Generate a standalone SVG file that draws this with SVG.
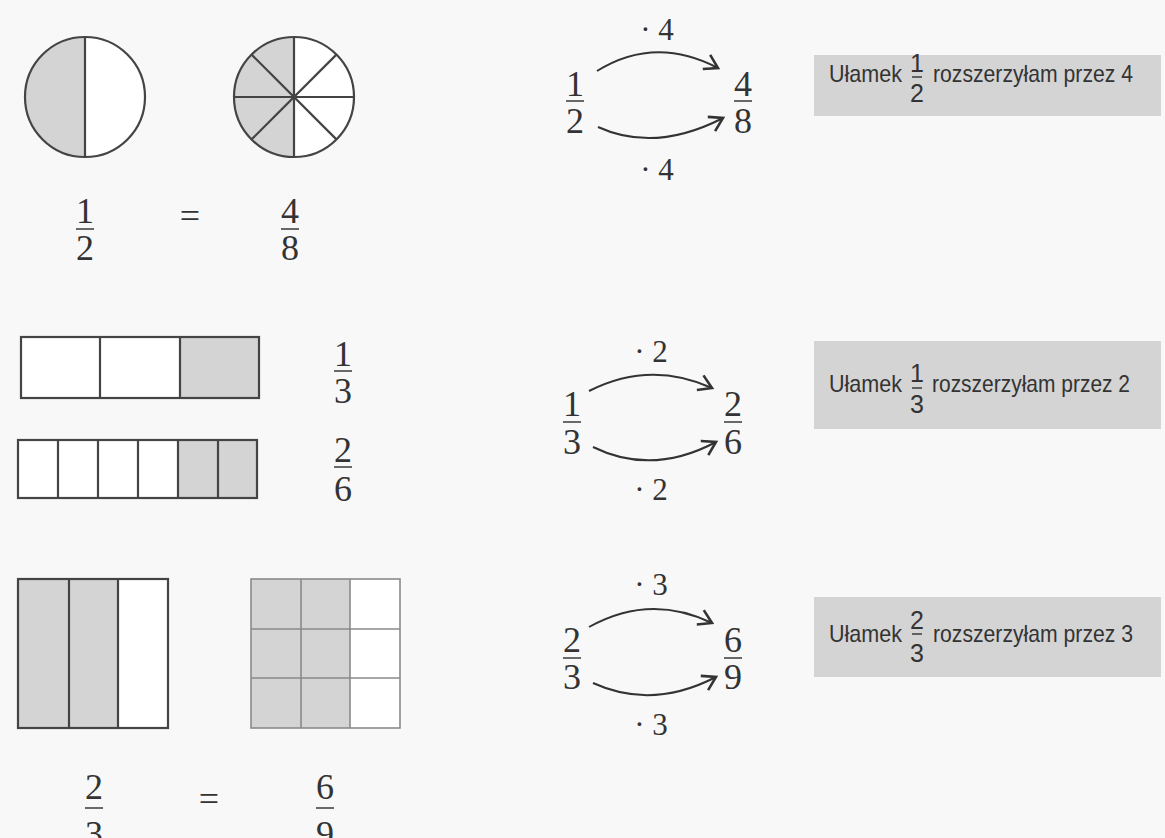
<svg xmlns="http://www.w3.org/2000/svg" width="1165" height="838" viewBox="0 0 1165 838">
<defs>
<style>
.bg{fill:#f8f8f8}
.sh{fill:#d4d4d4}
.wh{fill:#ffffff}
.ln{stroke:#444;stroke-width:2.2;fill:none}
.lt{stroke:#8a8a8a;stroke-width:1.6;fill:none}
.num{font-family:"Liberation Serif","Times New Roman",serif;font-size:36px;fill:#333;text-anchor:middle}
.mul{font-family:"Liberation Serif","Times New Roman",serif;font-size:31px;fill:#333;text-anchor:middle}
.bar{stroke:#444;stroke-width:1.6}
.box{fill:#d4d4d4}
.bt{font-family:"Liberation Sans",Arial,sans-serif;font-size:24px;fill:#333}
.bn{font-family:"Liberation Sans",Arial,sans-serif;font-size:25px;fill:#333;text-anchor:middle}
.arc{stroke:#333;stroke-width:2;fill:none}
</style>
<marker id="ah" viewBox="-16 -10 20 20" refX="0" refY="0" markerWidth="20" markerHeight="20" markerUnits="userSpaceOnUse" orient="auto">
<path d="M-13,-8 L0,0 L-13,8" fill="none" stroke="#333" stroke-width="2.6" stroke-linejoin="miter"/>
</marker>
</defs>
<rect class="bg" x="0" y="0" width="1165" height="838"/>

<!-- Row 1 -->
<g id="circle-half">
<circle class="wh" cx="85" cy="97" r="60"/>
<path class="sh" d="M85,37 A60,60 0 0 0 85,157 Z"/>
<circle class="ln" cx="85" cy="97" r="60"/>
<line class="ln" x1="85" y1="37" x2="85" y2="157"/>
</g>
<g id="circle-eighths">
<circle class="wh" cx="294" cy="97" r="60"/>
<path class="sh" d="M294,37 A60,60 0 0 0 294,157 Z"/>
<circle class="ln" cx="294" cy="97" r="60"/>
<line class="ln" x1="294" y1="37" x2="294" y2="157"/>
<line class="ln" x1="234" y1="97" x2="354" y2="97"/>
<line class="ln" x1="251.6" y1="54.6" x2="336.4" y2="139.4"/>
<line class="ln" x1="251.6" y1="139.4" x2="336.4" y2="54.6"/>
</g>
<g id="row1-left-fractions">
<text class="num" x="85" y="223">1</text>
<line class="bar" x1="76" y1="229" x2="94" y2="229"/>
<text class="num" x="85" y="260">2</text>
<text class="num" x="190" y="228">=</text>
<text class="num" x="290" y="223">4</text>
<line class="bar" x1="281" y1="229" x2="299" y2="229"/>
<text class="num" x="290" y="260">8</text>
</g>
<g id="row1-arrow-fractions">
<text class="num" x="575" y="96">1</text>
<line class="bar" x1="566" y1="101" x2="584" y2="101"/>
<text class="num" x="575" y="133">2</text>
<text class="num" x="743" y="96">4</text>
<line class="bar" x1="734" y1="101" x2="752" y2="101"/>
<text class="num" x="743" y="133">8</text>
<text class="mul" x="657" y="40">· 4</text>
<text class="mul" x="657" y="180">· 4</text>
</g>
<g id="box1">
<rect class="box" x="814" y="55" width="347" height="61"/>
<text class="bt" x="829" y="82" textLength="73" lengthAdjust="spacingAndGlyphs">Ułamek</text>
<text class="bn" x="917" y="72">1</text>
<line class="bar" x1="912" y1="77" x2="922" y2="77"/>
<text class="bn" x="917" y="102">2</text>
<text class="bt" x="933" y="82" textLength="200" lengthAdjust="spacingAndGlyphs">rozszerzyłam przez 4</text>
</g>

<!-- Row 2 -->
<g id="bar-thirds">
<rect class="wh" x="21" y="337" width="238" height="61"/>
<rect class="sh" x="180" y="337" width="79" height="61"/>
<rect class="ln" x="21" y="337" width="238" height="61"/>
<line class="ln" x1="100" y1="337" x2="100" y2="398"/>
<line class="ln" x1="180" y1="337" x2="180" y2="398"/>
</g>
<g id="bar-sixths">
<rect class="wh" x="18" y="440" width="239" height="58"/>
<rect class="sh" x="178" y="440" width="79" height="58"/>
<rect class="ln" x="18" y="440" width="239" height="58"/>
<line class="ln" x1="58" y1="440" x2="58" y2="498"/>
<line class="ln" x1="98" y1="440" x2="98" y2="498"/>
<line class="ln" x1="138" y1="440" x2="138" y2="498"/>
<line class="ln" x1="178" y1="440" x2="178" y2="498"/>
<line class="ln" x1="218" y1="440" x2="218" y2="498"/>
</g>
<g id="row2-left-fractions">
<text class="num" x="343" y="366">1</text>
<line class="bar" x1="334" y1="371" x2="352" y2="371"/>
<text class="num" x="343" y="403">3</text>
<text class="num" x="343" y="462">2</text>
<line class="bar" x1="334" y1="467" x2="352" y2="467"/>
<text class="num" x="343" y="501">6</text>
</g>
<g id="row2-arrow-fractions">
<text class="num" x="572" y="416">1</text>
<line class="bar" x1="563" y1="422" x2="581" y2="422"/>
<text class="num" x="572" y="454">3</text>
<text class="num" x="733" y="416">2</text>
<line class="bar" x1="724" y1="422" x2="742" y2="422"/>
<text class="num" x="733" y="454">6</text>
<text class="mul" x="651" y="362">· 2</text>
<text class="mul" x="651" y="500">· 2</text>
</g>
<g id="box2">
<rect class="box" x="814" y="341" width="347" height="88"/>
<text class="bt" x="829" y="392" textLength="73" lengthAdjust="spacingAndGlyphs">Ułamek</text>
<text class="bn" x="917" y="382">1</text>
<line class="bar" x1="912" y1="388" x2="922" y2="388"/>
<text class="bn" x="917" y="413">3</text>
<text class="bt" x="932" y="392" textLength="198" lengthAdjust="spacingAndGlyphs">rozszerzyłam przez 2</text>
</g>

<!-- Row 3 -->
<g id="square-thirds">
<rect class="wh" x="18" y="579" width="150" height="149"/>
<rect class="sh" x="18" y="579" width="100" height="149"/>
<rect class="ln" x="18" y="579" width="150" height="149"/>
<line class="ln" x1="69" y1="579" x2="69" y2="728"/>
<line class="ln" x1="118" y1="579" x2="118" y2="728"/>
</g>
<g id="square-ninths">
<rect class="wh" x="251" y="579" width="149" height="149"/>
<rect class="sh" x="251" y="579" width="99" height="149"/>
<rect class="lt" x="251" y="579" width="149" height="149"/>
<line class="lt" x1="301" y1="579" x2="301" y2="728"/>
<line class="lt" x1="350" y1="579" x2="350" y2="728"/>
<line class="lt" x1="251" y1="629" x2="400" y2="629"/>
<line class="lt" x1="251" y1="678" x2="400" y2="678"/>
</g>
<g id="row3-left-fractions">
<text class="num" x="94" y="799">2</text>
<line class="bar" x1="85" y1="808" x2="103" y2="808"/>
<text class="num" x="94" y="846">3</text>
<text class="num" x="209" y="811">=</text>
<text class="num" x="325" y="799">6</text>
<line class="bar" x1="316" y1="808" x2="334" y2="808"/>
<text class="num" x="325" y="846">9</text>
</g>
<g id="row3-arrow-fractions">
<text class="num" x="572" y="652">2</text>
<line class="bar" x1="563" y1="658" x2="581" y2="658"/>
<text class="num" x="572" y="689">3</text>
<text class="num" x="733" y="652">6</text>
<line class="bar" x1="724" y1="658" x2="742" y2="658"/>
<text class="num" x="733" y="689">9</text>
<text class="mul" x="651" y="595">· 3</text>
<text class="mul" x="651" y="735">· 3</text>
</g>
<g id="box3">
<rect class="box" x="814" y="597" width="347" height="80"/>
<text class="bt" x="829" y="642" textLength="73" lengthAdjust="spacingAndGlyphs">Ułamek</text>
<text class="bn" x="917" y="629">2</text>
<line class="bar" x1="912" y1="634" x2="922" y2="634"/>
<text class="bn" x="917" y="662">3</text>
<text class="bt" x="933" y="642" textLength="200" lengthAdjust="spacingAndGlyphs">rozszerzyłam przez 3</text>
</g>

<g id="connectors">
<path class="arc" d="M597,71 Q655,35 718,68" marker-end="url(#ah)"/>
<path class="arc" d="M598,127 Q655,153 723,118" marker-end="url(#ah)"/>
<path class="arc" d="M589,391 Q650,360 712,388" marker-end="url(#ah)"/>
<path class="arc" d="M593,447 Q652,476 716,442" marker-end="url(#ah)"/>
<path class="arc" d="M589,627 Q650,593 712,623" marker-end="url(#ah)"/>
<path class="arc" d="M593,683 Q652,710 716,677" marker-end="url(#ah)"/>
</g>
</svg>
